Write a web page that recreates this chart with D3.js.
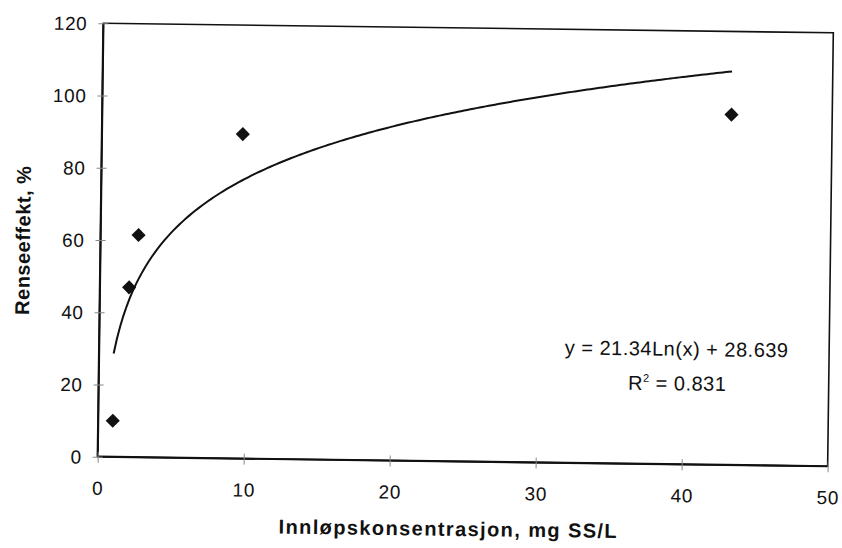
<!DOCTYPE html>
<html>
<head>
<meta charset="utf-8">
<script src="https://cdn.jsdelivr.net/npm/d3@7"></script>
<style>
  html, body { margin: 0; padding: 0; background: #fff; }
  svg { display: block; }
  text { font-family: "Liberation Sans", Arial, Helvetica, sans-serif; fill: #111; }
</style>
</head>
<body>
<svg id="chart" width="842" height="548"></svg>
<script>
// ---- data ----
const xValues = [1.0, 2.0, 2.6, 9.65, 43.1];
const yValues = [10, 47, 61.5, 89.8, 97];
const xTicks = [0, 10, 20, 30, 40, 50];
const yTicks = [0, 20, 40, 60, 80, 100, 120];
const fitA = 21.34, fitB = 28.639;
const equationText = "y = 21.34Ln(x) + 28.639";
const r2Value = "0.831";
const xTitle = "Innløpskonsentrasjon, mg SS/L";
const yTitle = "Renseeffekt, %";

// ---- layout ----
const L = 100.5, R = 830.5, T = 28, B = 461.5;
const svg = d3.select("#chart");
const g = svg.append("g").attr("transform", "rotate(0.75, 465.4, 245)");

const x = d3.scaleLinear().domain([0, 50]).range([L, R]);
const y = d3.scaleLinear().domain([0, 120]).range([B, T]);

// frame
g.append("rect").attr("x", L).attr("y", T).attr("width", R - L).attr("height", B - T)
  .attr("fill", "none").attr("stroke", "#111").attr("stroke-width", 1.6);
g.append("line").attr("x1", L).attr("x2", L).attr("y1", T).attr("y2", B)
  .attr("stroke", "#111").attr("stroke-width", 2.2);
g.append("line").attr("x1", L).attr("x2", R).attr("y1", B).attr("y2", B)
  .attr("stroke", "#111").attr("stroke-width", 2.2);

// y axis
const yAxis = d3.axisLeft(y).tickValues(yTicks).tickSizeInner(5).tickSizeOuter(0);
const ya = g.append("g").attr("transform", `translate(${L},0)`).call(yAxis);
ya.select(".domain").remove();
ya.selectAll(".tick line").attr("x2", 5).attr("x1", -5).attr("stroke", "#888").attr("stroke-width", 1);
ya.selectAll(".tick text").attr("x", -16).attr("dy", "0.35em")
  .style("font-size", "19px").style("letter-spacing", "0.6px")
  .style("font-family", "Liberation Sans, Arial, sans-serif").attr("fill", "#111");

// x axis
const xAxis = d3.axisBottom(x).tickValues(xTicks).tickSizeInner(5).tickSizeOuter(0);
const xa = g.append("g").attr("transform", `translate(0,${B})`).call(xAxis);
xa.select(".domain").remove();
xa.selectAll(".tick line").attr("y1", -5).attr("y2", 6).attr("stroke", "#888").attr("stroke-width", 1);
xa.selectAll(".tick text").attr("y", 38).attr("dy", "0")
  .style("font-size", "19px").style("letter-spacing", "0.6px")
  .style("font-family", "Liberation Sans, Arial, sans-serif").attr("fill", "#111");

// trend line from the printed equation
const xMin = d3.min(xValues), xMax = d3.max(xValues);
const fitX = d3.range(0, 201).map(i => xMin + (xMax - xMin) * i / 200);
const line = d3.line().x(d => x(d)).y(d => y(fitA * Math.log(d) + fitB));
g.append("path").datum(fitX).attr("d", line).attr("fill", "none")
  .attr("stroke", "#111").attr("stroke-width", 2);

// points
const sym = d3.symbol().type(d3.symbolSquare).size(100);
g.selectAll(".pt").data(xValues.map((v, i) => [v, yValues[i]])).join("path")
  .attr("class", "pt").attr("d", sym)
  .attr("transform", d => `translate(${x(d[0])},${y(d[1])}) rotate(45)`)
  .attr("fill", "#111");

// equation
g.append("text").attr("x", 678).attr("y", 353).attr("text-anchor", "middle")
  .style("font-size", "20px").style("letter-spacing", "0.5px").text(equationText);
const r2 = g.append("text").attr("x", 679).attr("y", 387.5).attr("text-anchor", "middle")
  .style("font-size", "20px").style("letter-spacing", "0.5px");
r2.append("tspan").text("R");
r2.append("tspan").attr("dy", -8).style("font-size", "11px").text("2");
r2.append("tspan").attr("dy", 8).text(" = " + r2Value);

// axis titles
g.append("text").attr("x", 452).attr("y", 536).attr("text-anchor", "middle")
  .style("font-size", "20px").style("font-weight", "bold").style("letter-spacing", "1.4px")
  .text(xTitle);
g.append("text").attr("transform", "translate(30,246) rotate(-90)").attr("text-anchor", "middle")
  .style("font-size", "20px").style("font-weight", "bold").style("letter-spacing", "0.5px")
  .text(yTitle);
</script>
</body>
</html>
